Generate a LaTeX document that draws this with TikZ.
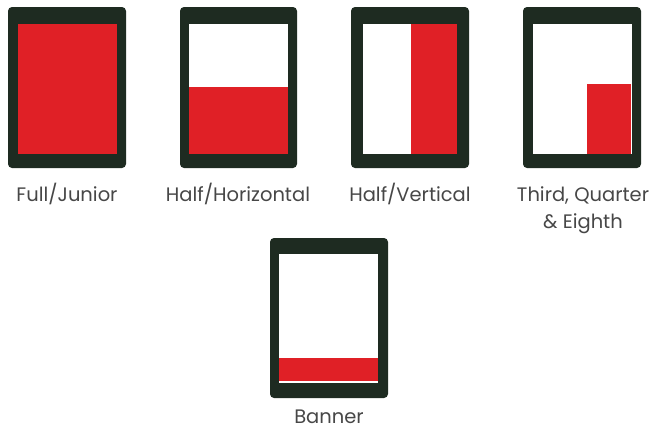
\documentclass[tikz,border=0pt]{standalone}
\usepackage{fontspec}
\setmainfont{Poppins}
\usetikzlibrary{positioning}
\definecolor{framedark}{HTML}{1E2B21}
\definecolor{adred}{HTML}{E02026}
\definecolor{captext}{HTML}{474747}

\begin{document}
\begin{tikzpicture}[
  x=1pt, y=-1pt,
  tablet/.style={fill=framedark, rounded corners=4pt},
  screen/.style={fill=white},
  ad/.style={fill=adred},
  caption/.style={font=\fontsize{19.5}{27}\selectfont, text=captext,
    align=center, anchor=base, inner sep=0pt, text depth=0pt}
]
  \useasboundingbox (0,0) rectangle (653,431);

  % Fileira de cima (y=7..168)
  \fill[tablet] (8,7) rectangle (126,168);
  \fill[ad] (18,24) rectangle (117,154);

  \fill[tablet] (180,7) rectangle (297,168);
  \fill[screen] (189,24) rectangle (288,154);
  \fill[ad] (189,87) rectangle (288,154);

  \fill[tablet] (351,7) rectangle (469,168);
  \fill[screen] (363,24) rectangle (457,154);
  \fill[ad] (411,24) rectangle (457,154);

  \fill[tablet] (523,7) rectangle (641,168);
  \fill[screen] (533,24) rectangle (632,154);
  \fill[ad] (587,84) rectangle (631,154);

  % Banner embaixo
  \fill[tablet] (270,238) rectangle (388,398);
  \fill[screen] (279,254) rectangle (378,383);
  \fill[ad] (279,358) rectangle (378,381);

  % Legendas (base = ultima linha)
  \node[caption] (full)   at (67,201)  {Full/Junior};
  \node[caption] (halfh)  at (238,201) {Half/Horizontal};
  \node[caption] (halfv)  at (410,201) {Half/Vertical};
  \node[caption] (third)  at (583,228) {Third, Quarter\\ \& Eighth};
  \node[caption] (banner) at (329,423) {Banner};
\end{tikzpicture}
\end{document}
